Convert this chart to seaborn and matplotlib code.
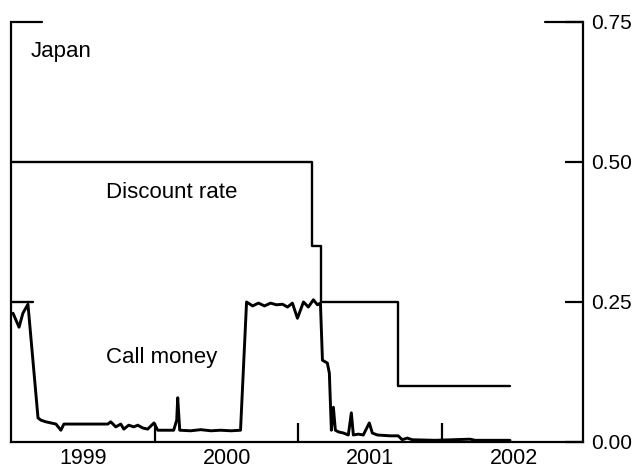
import numpy as np
import pandas as pd
import matplotlib
matplotlib.use("Agg")
import matplotlib.pyplot as plt
import seaborn as sns

# discount rate (step series), decimal years
disc_dates = [1999.0, 2001.097, 2001.16, 2001.69, 2002.47]
disc_rate = [0.50, 0.35, 0.25, 0.10, 0.10]

# short 0.25 line at the start
target_dates = [1999.0, 1999.15]
target_rate = [0.25, 0.25]

# call money rate
call_dates = [1999.014, 1999.056, 1999.083, 1999.118, 1999.188, 1999.208, 1999.243,
              1999.278, 1999.313, 1999.347, 1999.368, 1999.674, 1999.694, 1999.729,
              1999.764, 1999.785, 1999.819, 1999.854, 1999.882, 1999.917, 1999.951,
              1999.995, 2000.021, 2000.132, 2000.153, 2000.160, 2000.174, 2000.250,
              2000.320, 2000.390, 2000.460, 2000.530, 2000.597, 2000.639, 2000.681,
              2000.722, 2000.764, 2000.806, 2000.847, 2000.889, 2000.924, 2000.958,
              2000.993, 2001.035, 2001.069, 2001.104, 2001.132, 2001.153, 2001.167,
              2001.201, 2001.215, 2001.229, 2001.243, 2001.257, 2001.278, 2001.313,
              2001.347, 2001.368, 2001.382, 2001.417, 2001.451, 2001.493, 2001.514,
              2001.549, 2001.639, 2001.694, 2001.722, 2001.757, 2001.792, 2001.950,
              2002.194, 2002.230, 2002.472]
call_rate = [0.230, 0.205, 0.230, 0.246, 0.043, 0.039, 0.036,
             0.034, 0.032, 0.021, 0.032, 0.032, 0.036, 0.027,
             0.032, 0.023, 0.030, 0.027, 0.030, 0.025, 0.023,
             0.034, 0.021, 0.021, 0.039, 0.079, 0.021, 0.020,
             0.022, 0.020, 0.021, 0.020, 0.021, 0.250, 0.243,
             0.248, 0.243, 0.248, 0.245, 0.246, 0.241, 0.248,
             0.221, 0.250, 0.241, 0.254, 0.245, 0.248, 0.146,
             0.141, 0.123, 0.021, 0.062, 0.021, 0.018, 0.016,
             0.0125, 0.052, 0.0125, 0.014, 0.0125, 0.034, 0.016,
             0.0125, 0.011, 0.011, 0.004, 0.007, 0.004, 0.003,
             0.005, 0.003, 0.003]

year_ticks = [2000, 2001, 2002]
year_label_pos = [1999.5, 2000.5, 2001.5, 2002.5]
year_labels = ["1999", "2000", "2001", "2002"]
y_ticks = [0.0, 0.25, 0.50, 0.75]
y_labels = ["0.00", "0.25", "0.50", "0.75"]

sns.set_style("white")
plt.rcParams["font.family"] = ["Liberation Sans", "DejaVu Sans"]
plt.rcParams["text.color"] = "black"

fig = plt.figure(figsize=(6.39, 4.69), dpi=100)
ax = fig.add_axes([0.0172, 0.0576, 0.8952, 0.8955])

disc = pd.DataFrame({"date": disc_dates, "rate": disc_rate})
call = pd.DataFrame({"date": call_dates, "rate": call_rate})
targ = pd.DataFrame({"date": target_dates, "rate": target_rate})

sns.lineplot(data=disc, x="date", y="rate", ax=ax, color="black", lw=1.7,
             drawstyle="steps-post")
sns.lineplot(data=targ, x="date", y="rate", ax=ax, color="black", lw=1.7)
sns.lineplot(data=call, x="date", y="rate", ax=ax, color="black", lw=2.1)

ax.set_xlim(1999.0, 2002.98)
ax.set_ylim(0, 0.75)
ax.set_xlabel("")
ax.set_ylabel("")

# x: year boundaries as inward ticks, labels mid-year
ax.set_xticks(year_ticks)
ax.set_xticklabels([])
ax.set_xticks(year_label_pos, minor=True)
ax.set_xticklabels(year_labels, minor=True)
ax.tick_params(axis="x", which="major", direction="in", length=14, width=1.6,
               color="black", bottom=True)
ax.tick_params(axis="x", which="minor", length=0, labelsize=15.5, pad=4,
               labelcolor="black", bottom=True)

# y on the right
ax.yaxis.tick_right()
ax.set_yticks(y_ticks)
ax.set_yticklabels(y_labels)
ax.tick_params(axis="y", direction="in", length=13, width=1.6, color="black",
               labelsize=15, pad=6, left=False, right=True, labelcolor="black")

for side in ["left", "right", "bottom"]:
    ax.spines[side].set_visible(True)
    ax.spines[side].set_color("black")
    ax.spines[side].set_linewidth(1.6)
ax.spines["top"].set_visible(False)

# partial top edge at both corners
ax.axhline(0.75, xmin=0, xmax=0.054, color="black", lw=1.6, clip_on=False)
ax.axhline(0.75, xmin=0.934, xmax=1, color="black", lw=1.6, clip_on=False)

ax.text(1999.14, 0.688, "Japan", fontsize=16, va="baseline", ha="left", color="black")
ax.text(1999.66, 0.436, "Discount rate", fontsize=16, va="baseline", ha="left", color="black")
ax.text(1999.66, 0.141, "Call money", fontsize=16, va="baseline", ha="left", color="black")

fig.savefig("out.png", dpi=100)
